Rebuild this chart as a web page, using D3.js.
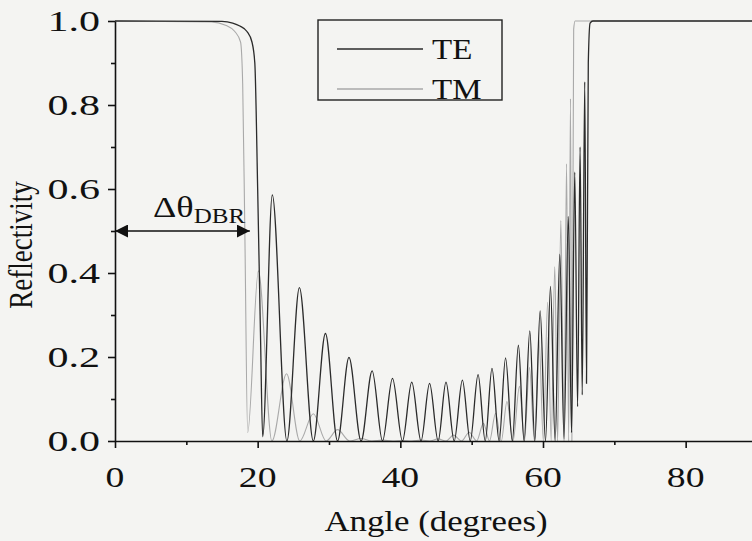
<!DOCTYPE html>
<html>
<head>
<meta charset="utf-8">
<script src="https://cdn.jsdelivr.net/npm/d3@7"></script>
<style>
  body { margin: 0; background: #f4f4f2; }
  svg { display: block; }
  text { font-family: "Liberation Serif", Tinos, "Times New Roman", Times, serif; }
</style>
</head>
<body>
<svg id="chart" width="752" height="541"></svg>
<script>
// values
const teAngle = [0, 15, 16.5, 17.5, 18.5, 19.2, 19.6, 20.0, 20.4, 20.7,
  22.05, 24.1, 25.85, 27.8, 29.5, 31.2, 32.8, 34.5, 36.05, 37.5, 38.9, 40.3,
  41.6, 42.9, 44.1, 45.3, 46.4, 47.55, 48.7, 49.8, 50.9, 51.9, 52.85, 53.85,
  54.75, 55.7, 56.55, 57.35, 58.15, 58.85, 59.6, 60.35, 61.05, 61.7, 62.35,
  62.95, 63.55, 64.0, 64.45, 64.85, 65.2, 65.5, 65.85, 66.1, 66.35, 66.6, 67, 90];
const teR = [1, 0.999, 0.995, 0.988, 0.975, 0.95, 0.9, 0.6, 0.25, 0.01,
  0.586, 0, 0.365, 0, 0.256, 0, 0.199, 0, 0.167, 0, 0.149, 0,
  0.14, 0, 0.137, 0, 0.14, 0, 0.145, 0, 0.158, 0, 0.173, 0,
  0.198, 0, 0.228, 0, 0.262, 0, 0.31, 0, 0.368, 0, 0.445,
  0.005, 0.535, 0.02, 0.64, 0.082, 0.7, 0.11, 0.855, 0.137, 0.9, 0.995, 1, 1];

const tmAngle = [0, 13.5, 15.5, 16.8, 17.6, 17.9, 18.2, 18.6,
  20.1, 22.0, 24.05, 25.9, 27.8, 29.6, 31.2, 32.9, 34.5, 36.0, 37.5, 38.9,
  40.3, 41.6, 42.9, 44.1, 45.3, 46.4, 47.45, 48.6, 49.65, 50.7, 51.65, 52.5,
  53.35, 54.15, 54.95, 55.8, 56.7, 57.4, 58.1, 58.8, 59.45, 60.05, 60.65,
  61.15, 61.65, 62.05, 62.5, 62.95, 63.3, 63.6, 63.85, 64.05, 64.3, 64.5, 90];
const tmR = [1, 0.998, 0.99, 0.975, 0.95, 0.85, 0.5, 0.02,
  0.405, 0, 0.16, 0, 0.065, 0, 0.027, 0, 0.006, 0, 0.002, 0,
  0.001, 0, 0.002, 0, 0.005, 0, 0.014, 0, 0.021, 0, 0.042, 0,
  0.066, 0, 0.094, 0, 0.13, 0, 0.175, 0, 0.24, 0, 0.33,
  0, 0.415, 0, 0.525, 0, 0.66, 0, 0.815, 0, 0.98, 1, 1];

const xMajor = [0, 20, 40, 60, 80];
const xMinor = [10, 30, 50, 70, 90];
const yMajor = [0, 0.2, 0.4, 0.6, 0.8, 1.0];
const yMinor = [0.1, 0.3, 0.5, 0.7, 0.9];
const seriesNames = ["TE", "TM"];
const bandEdge = 18.9; // end of the ΔθDBR arrow
const bandLevel = 0.5;

const svg = d3.select("#chart");
const x = d3.scaleLinear().domain([0, 90]).range([115, 757]);
const y = d3.scaleLinear().domain([0, 1]).range([441, 21]);

const colors = { TE: "#2b2b2b", TM: "#a9a9a9" };

function stretchedText(parent, px, py, str, size, sx, anchor) {
  return parent.append("text")
    .attr("transform", `translate(${px},${py}) scale(${sx},1)`)
    .attr("text-anchor", anchor || "middle")
    .attr("font-size", size)
    .attr("fill", "#111")
    .text(str);
}

// curves
const line = d3.line()
  .x((d) => x(d[0]))
  .y((d) => y(d[1]))
  .curve(d3.curveMonotoneX);

const tmPoints = tmAngle.map((a, i) => [a, tmR[i]]);
const tePoints = teAngle.map((a, i) => [a, teR[i]]);

svg.append("path")
  .datum(tmPoints)
  .attr("fill", "none")
  .attr("stroke", colors.TM)
  .attr("stroke-width", 1.1)
  .attr("d", line);

svg.append("path")
  .datum(tePoints)
  .attr("fill", "none")
  .attr("stroke", colors.TE)
  .attr("stroke-width", 1.3)
  .attr("d", line);

// axes
const xAxis = svg.append("g").attr("transform", `translate(0,${y(0)})`);
xAxis.call(d3.axisBottom(x).tickValues(xMajor).tickSize(7).tickSizeOuter(0).tickFormat(""));
xAxis.append("g").call(d3.axisBottom(x).tickValues(xMinor).tickSize(4).tickSizeOuter(0).tickFormat(""))
  .select(".domain").remove();

const yAxis = svg.append("g").attr("transform", `translate(${x(0)},0)`);
yAxis.call(d3.axisLeft(y).tickValues(yMajor).tickSize(7).tickSizeOuter(0).tickFormat(""));
yAxis.append("g").call(d3.axisLeft(y).tickValues(yMinor).tickSize(4).tickSizeOuter(0).tickFormat(""))
  .select(".domain").remove();

svg.selectAll(".domain, .tick line")
  .attr("stroke", "#111")
  .attr("stroke-width", 1.6);

xMajor.forEach((v) => stretchedText(svg, x(v), 487, String(v), 29, 1.3));
yMajor.forEach((v) => stretchedText(svg, 100, y(v) + 10, d3.format(".1f")(v), 29, 1.45, "end"));

stretchedText(svg, 436, 531, "Angle (degrees)", 29, 1.2);

// rotated label, widened across x like the rest of the text
svg.append("text")
  .attr("transform", "translate(32,245) rotate(-90) scale(1,1.25)")
  .attr("text-anchor", "middle")
  .attr("font-size", 27)
  .attr("fill", "#111")
  .text("Reflectivity");

// legend
const legend = svg.append("g");
legend.append("rect")
  .attr("x", 318).attr("y", 20)
  .attr("width", 184).attr("height", 80)
  .attr("fill", "none")
  .attr("stroke", "#222")
  .attr("stroke-width", 1.4);

seriesNames.forEach((name, i) => {
  const ly = 49 + i * 40;
  legend.append("line")
    .attr("x1", 337).attr("x2", 423)
    .attr("y1", ly).attr("y2", ly)
    .attr("stroke", colors[name])
    .attr("stroke-width", 1.3);
  stretchedText(legend, 432, ly + 10, name, 30, 1.1, "start");
});

// Δθ_DBR annotation
svg.append("defs").selectAll("marker")
  .data(["start", "end"])
  .join("marker")
  .attr("id", (d) => `head-${d}`)
  .attr("viewBox", "0 -5 10 10")
  .attr("refX", 10)
  .attr("refY", 0)
  .attr("markerUnits", "userSpaceOnUse")
  .attr("markerWidth", 13)
  .attr("markerHeight", 13)
  .attr("orient", "auto-start-reverse")
  .append("path")
  .attr("fill", "#111")
  .attr("d", "M0,-5L10,0L0,5Z");

svg.append("line")
  .attr("x1", x(0)).attr("x2", x(bandEdge))
  .attr("y1", y(bandLevel)).attr("y2", y(bandLevel))
  .attr("stroke", "#111")
  .attr("stroke-width", 1.6)
  .attr("marker-start", "url(#head-start)")
  .attr("marker-end", "url(#head-end)");

const delta = svg.append("text")
  .attr("transform", "translate(153,217) scale(1.25,1)")
  .attr("font-size", 29)
  .attr("fill", "#111");
delta.append("tspan").text("Δθ");
delta.append("tspan").attr("font-size", 20).attr("dy", 6).text("DBR");
</script>
</body>
</html>
